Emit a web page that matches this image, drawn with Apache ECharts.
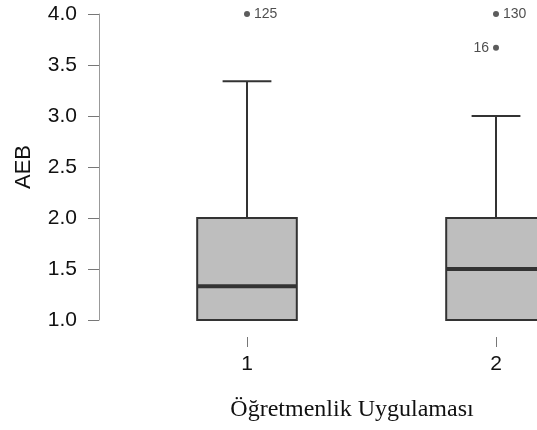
<!DOCTYPE html>
<html><head><meta charset="utf-8">
<script src="https://cdn.jsdelivr.net/npm/echarts@6/dist/echarts.min.js"></script>
<style>html,body{margin:0;padding:0;background:#fff}#c{width:537px;height:430px}</style>
</head><body><div id="c"></div>
<script>
const categories = ['1', '2'];
const whiskerLow = [1.0, 1.0];
const q1 = [1.0, 1.0];
const median = [1.33, 1.5];
const q3 = [2.0, 2.0];
const whiskerHigh = [3.34, 3.0];
const outlierCat = [0, 1, 1];
const outlierVal = [4.0, 4.0, 3.67];
const outlierLabel = ['125', '130', '16'];
const outlierSide = ['right', 'right', 'left'];
const yMin = 1.0, yMax = 4.0, yStep = 0.5;

const boxData = categories.map((c, i) => [i, whiskerLow[i], q1[i], median[i], q3[i], whiskerHigh[i]]);
const outData = outlierCat.map((c, k) => ({
  value: [c, outlierVal[k]],
  label: { position: outlierSide[k], formatter: outlierLabel[k] }
}));

const dark = '#333333';
function renderBox(params, api) {
  const i = api.value(0);
  const band = api.size([1, 0])[0];
  const bw = band * 0.4, cw = bw * 0.49;
  const pLo = api.coord([i, api.value(1)]);
  const pQ1 = api.coord([i, api.value(2)]);
  const pMd = api.coord([i, api.value(3)]);
  const pQ3 = api.coord([i, api.value(4)]);
  const pHi = api.coord([i, api.value(5)]);
  const x = pQ1[0];
  const ls = { stroke: dark, lineWidth: 2 };
  const children = [];
  if (pHi[1] < pQ3[1]) {
    children.push({ type: 'line', shape: { x1: x, y1: pQ3[1], x2: x, y2: pHi[1] }, style: ls });
    children.push({ type: 'line', shape: { x1: x - cw / 2, y1: pHi[1], x2: x + cw / 2, y2: pHi[1] }, style: ls });
  }
  if (pLo[1] > pQ1[1]) {
    children.push({ type: 'line', shape: { x1: x, y1: pQ1[1], x2: x, y2: pLo[1] }, style: ls });
    children.push({ type: 'line', shape: { x1: x - cw / 2, y1: pLo[1], x2: x + cw / 2, y2: pLo[1] }, style: ls });
  }
  children.push({ type: 'rect', shape: { x: x - bw / 2, y: pQ3[1], width: bw, height: pQ1[1] - pQ3[1] },
    style: { fill: '#bebebe', stroke: dark, lineWidth: 2 } });
  children.push({ type: 'line', shape: { x1: x - bw / 2, y1: pMd[1], x2: x + bw / 2, y2: pMd[1] },
    style: { stroke: dark, lineWidth: 4 } });
  return { type: 'group', children };
}

const chart = echarts.init(document.getElementById('c'), null, { renderer: 'canvas' });
chart.setOption({
  animation: false,
  backgroundColor: '#ffffff',
  grid: { left: 122.5, right: -83.5, top: 14, bottom: 110, containLabel: false, outerBoundsMode: 'none' },
  xAxis: {
    type: 'category', data: categories, offset: 17,
    axisLine: { show: false },
    axisTick: { show: true, alignWithLabel: true, length: 10, lineStyle: { color: '#777', width: 1 } },
    axisLabel: { margin: 17, color: '#111', fontSize: 21, fontFamily: 'Liberation Sans, Arial, sans-serif' },
    splitLine: { show: false },
    name: 'Öğretmenlik Uygulaması', nameLocation: 'middle', nameGap: 61,
    nameTextStyle: { fontFamily: 'Liberation Serif, Times New Roman, serif', fontSize: 24, color: '#111', padding: [0, 39, 0, 0] }
  },
  yAxis: {
    type: 'value', min: yMin, max: yMax, interval: yStep, offset: 23.5,
    axisLine: { show: true, lineStyle: { color: '#999', width: 1 } },
    axisTick: { show: true, length: 11, lineStyle: { color: '#777', width: 1 } },
    axisLabel: { margin: 22, color: '#111', fontSize: 21, fontFamily: 'Liberation Sans, Arial, sans-serif',
      formatter: v => v.toFixed(1) },
    splitLine: { show: false },
    name: 'AEB', nameLocation: 'middle', nameGap: 64, nameRotate: 90,
    nameTextStyle: { fontFamily: 'Liberation Sans, Arial, sans-serif', fontSize: 22, color: '#111' }
  },
  series: [
    { type: 'custom', renderItem: renderBox, data: boxData, clip: false, encode: { x: 0, y: [1, 2, 3, 4, 5] } },
    { type: 'scatter', data: outData, symbolSize: 6, itemStyle: { color: dark },
      label: { show: true, distance: 4, color: '#222', fontSize: 14, fontFamily: 'Liberation Sans, Arial, sans-serif' } }
  ]
});
</script></body></html>
